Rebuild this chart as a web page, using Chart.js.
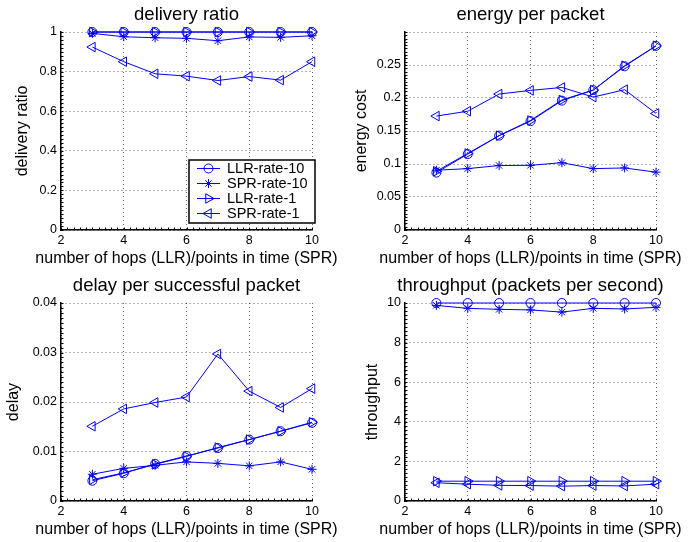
<!DOCTYPE html>
<html>
<head>
<meta charset="utf-8">
<script src="https://cdn.jsdelivr.net/npm/chart.js@4.4.0/dist/chart.umd.min.js"></script>
<style>
body { margin: 0; background: #fff; }
canvas { position: absolute; }
</style>
</head>
<body>
<canvas id="c1" width="349" height="271" style="left:0;top:0"></canvas>
<canvas id="c2" width="350" height="271" style="left:349px;top:0"></canvas>
<canvas id="c3" width="349" height="271" style="left:0;top:271px"></canvas>
<canvas id="c4" width="350" height="271" style="left:349px;top:271px"></canvas>
<script>
var hops = [3, 4, 5, 6, 7, 8, 9, 10];
var seriesNames = ["LLR-rate-10", "SPR-rate-10", "LLR-rate-1", "SPR-rate-1"];
var xTicks = [2, 4, 6, 8, 10];
var xTitle = 'number of hops (LLR)/points in time (SPR)';

// delivery ratio
var ratioLLR10 = [1, 1, 1, 1, 1, 1, 1, 1];
var ratioSPR10 = [0.993, 0.976, 0.971, 0.968, 0.956, 0.975, 0.973, 0.981];
var ratioLLR1 = [1, 1, 1, 1, 1, 1, 1, 1];
var ratioSPR1 = [0.924, 0.85, 0.789, 0.777, 0.755, 0.775, 0.757, 0.85];

// energy per packet
var energyLLR10 = [0.087, 0.115, 0.143, 0.165, 0.196, 0.212, 0.248, 0.279];
var energySPR10 = [0.0906, 0.093, 0.0977, 0.098, 0.102, 0.093, 0.094, 0.0876];
var energyLLR1 = [0.089, 0.116, 0.143, 0.166, 0.197, 0.212, 0.249, 0.279];
var energySPR1 = [0.1726, 0.18, 0.206, 0.2115, 0.216, 0.2014, 0.2126, 0.1766];

// delay per successful packet
var delayLLR10 = [0.0041, 0.0056, 0.0075, 0.0091, 0.0107, 0.0124, 0.0141, 0.0158];
var delaySPR10 = [0.0054, 0.0066, 0.0072, 0.0079, 0.0076, 0.0071, 0.0079, 0.0064];
var delayLLR1 = [0.0043, 0.0057, 0.0074, 0.009, 0.0108, 0.0124, 0.0141, 0.0159];
var delaySPR1 = [0.0151, 0.0186, 0.0199, 0.021, 0.0297, 0.0222, 0.0189, 0.0227];

// throughput
var thrLLR10 = [10, 10, 10, 10, 10, 10, 10, 10];
var thrSPR10 = [9.88, 9.73, 9.68, 9.65, 9.54, 9.73, 9.70, 9.78];
var thrLLR1 = [1, 1, 1, 1, 1, 1, 1, 1];
var thrSPR1 = [0.92, 0.85, 0.79, 0.78, 0.75, 0.78, 0.76, 0.85];

var FONT = '"Liberation Sans", Arial, Helvetica, sans-serif';
var BLUE = '#0000ff';

var markers = [
    { style: 'circle', rot: 0, r: 4.5 },
    { style: 'star', rot: 0, r: 4.5 },
    { style: 'triangle', rot: 90, r: 5.5 },
    { style: 'triangle', rot: -90, r: 5.5 }
];

// title and x label are centred on the plot and may be wider than it,
// chart.js would squeeze them, so they are drawn here
var plotTexts = {
    id: 'plotTexts',
    afterDraw: function (chart, args, opts) {
        var ctx = chart.ctx, a = chart.chartArea;
        var cx = (a.left + a.right) / 2;
        ctx.save();
        ctx.fillStyle = '#000';
        ctx.textAlign = 'center';
        ctx.textBaseline = 'middle';
        ctx.font = '18.5px ' + FONT;
        ctx.fillText(opts.title, cx, 14.5);
        ctx.font = '16px ' + FONT;
        ctx.fillText(xTitle, cx, chart.height - 12.6);
        ctx.restore();
    }
};

// small inward minor ticks on the left and bottom axes
var minorTicks = {
    id: 'minorTicks',
    afterDatasetsDraw: function (chart, args, opts) {
        var ctx = chart.ctx, a = chart.chartArea;
        var xs = chart.scales.x, ys = chart.scales.y;
        ctx.save();
        ctx.strokeStyle = '#000';
        ctx.lineWidth = 1;
        ctx.beginPath();
        var i, p;
        for (i = 0; i <= 40; i++) {
            p = Math.round(xs.getPixelForValue(2 + i * 0.2)) + 0.5;
            ctx.moveTo(p, a.bottom);
            ctx.lineTo(p, a.bottom - 2.5);
        }
        var n = Math.round(ys.max / opts.yMinor);
        for (i = 0; i <= n; i++) {
            p = Math.round(ys.getPixelForValue(i * opts.yMinor)) + 0.5;
            ctx.moveTo(a.left, p);
            ctx.lineTo(a.left + 2.5, p);
        }
        ctx.stroke();
        ctx.restore();
    }
};

// legend drawn inside the plot, like matlab's boxed legend
var boxLegend = {
    id: 'boxLegend',
    afterDatasetsDraw: function (chart, args, opts) {
        if (!opts.display) return;
        var ctx = chart.ctx, a = chart.chartArea;
        var w = 126, h = 63;
        var x = a.right + 3 - w, y = a.bottom - 7 - h;
        ctx.save();
        ctx.fillStyle = '#fff';
        ctx.fillRect(x, y, w, h);
        ctx.lineWidth = 1.5;
        ctx.strokeStyle = '#000';
        ctx.strokeRect(x, y, w, h);
        ctx.font = '14.5px ' + FONT;
        ctx.textBaseline = 'middle';
        chart.data.datasets.forEach(function (ds, i) {
            var cy = y + 8.5 + i * 15;
            ctx.strokeStyle = ds.borderColor;
            ctx.lineWidth = 1;
            ctx.beginPath();
            ctx.moveTo(x + 8, cy);
            ctx.lineTo(x + 31, cy);
            ctx.stroke();
            ctx.fillStyle = 'rgba(0,0,0,0)';
            Chart.helpers.drawPoint(ctx, {
                pointStyle: ds.pointStyle,
                rotation: ds.pointRotation,
                radius: ds.pointRadius,
                borderWidth: 1
            }, x + 19.5, cy);
            ctx.fillStyle = '#000';
            ctx.fillText(ds.label, x + 38, cy);
        });
        ctx.restore();
    }
};

function makeChart(id, o) {
    var datasets = o.series.map(function (vals, i) {
        return {
            label: seriesNames[i],
            data: vals.map(function (v, j) { return { x: hops[j], y: v }; }),
            borderColor: BLUE,
            borderWidth: 1,
            pointStyle: markers[i].style,
            pointRotation: markers[i].rot,
            pointRadius: markers[i].r,
            pointBorderColor: BLUE,
            pointBackgroundColor: 'rgba(0,0,0,0)',
            pointBorderWidth: 1,
            tension: 0,
            clip: false
        };
    });
    return new Chart(document.getElementById(id), {
        type: 'line',
        data: { datasets: datasets },
        options: {
            responsive: false,
            animation: false,
            layout: { padding: { left: 0, right: o.padRight, top: 32, bottom: 0 } },
            plugins: {
                legend: { display: false },
                tooltip: { enabled: false },
                title: { display: false },
                plotTexts: { title: o.title },
                minorTicks: { yMinor: o.yMinor },
                boxLegend: { display: !!o.legend }
            },
            scales: {
                x: {
                    type: 'linear',
                    min: 2,
                    max: 10,
                    afterBuildTicks: function (s) {
                        s.ticks = xTicks.map(function (v) { return { value: v }; });
                    },
                    ticks: { color: '#000', font: { family: FONT, size: 12.5 }, padding: 3.5, maxRotation: 0 },
                    grid: { color: 'rgba(0,0,0,0.6)', lineWidth: 1, drawTicks: false },
                    border: { display: true, color: '#000', width: 1.5, dash: [1, 3] },
                    afterFit: function (s) {
                        s.height = 41;
                        s.paddingLeft = 0;
                        s.paddingRight = 0;
                    }
                },
                y: {
                    min: 0,
                    max: o.yMax,
                    afterBuildTicks: function (s) {
                        s.ticks = o.yTicks.map(function (v) { return { value: v }; });
                    },
                    ticks: {
                        color: '#000',
                        font: { family: FONT, size: 12.5 },
                        padding: 4,
                        callback: function (v) {
                            return o.yLabels.indexOf(v) >= 0 ? String(v) : '';
                        }
                    },
                    grid: { color: 'rgba(0,0,0,0.6)', lineWidth: 1, drawTicks: false },
                    border: { display: true, color: '#000', width: 1.5, dash: [1, 3] },
                    title: {
                        display: true,
                        text: o.yTitle,
                        color: '#000',
                        font: { family: FONT, size: 16 },
                        padding: { top: o.yTitlePad, bottom: 0 }
                    },
                    afterFit: function (s) {
                        s.width = o.yWidth;
                        s.paddingTop = 0;
                        s.paddingBottom = 0;
                    }
                }
            }
        },
        plugins: [boxLegend, minorTicks, plotTexts]
    });
}

makeChart('c1', {
    title: 'delivery ratio',
    yTitle: 'delivery ratio',
    series: [ratioLLR10, ratioSPR10, ratioLLR1, ratioSPR1],
    yMax: 1, yMinor: 0.02,
    yTicks: [0, 0.2, 0.4, 0.6, 0.8, 1],
    yLabels: [0, 0.2, 0.4, 0.6, 0.8, 1],
    yWidth: 61, padRight: 37, yTitlePad: 13.4, legend: true
});
makeChart('c2', {
    title: 'energy per packet',
    yTitle: 'energy cost',
    series: [energyLLR10, energySPR10, energyLLR1, energySPR1],
    yMax: 0.3, yMinor: 0.005,
    yTicks: [0, 0.05, 0.1, 0.15, 0.2, 0.25, 0.3],
    yLabels: [0, 0.05, 0.1, 0.15, 0.2, 0.25],
    yWidth: 56, padRight: 43, yTitlePad: 3.1
});
makeChart('c3', {
    title: 'delay per successful packet',
    yTitle: 'delay',
    series: [delayLLR10, delaySPR10, delayLLR1, delaySPR1],
    yMax: 0.04, yMinor: 0.001,
    yTicks: [0, 0.01, 0.02, 0.03, 0.04],
    yLabels: [0, 0.01, 0.02, 0.03, 0.04],
    yWidth: 61, padRight: 37, yTitlePad: 3.7
});
makeChart('c4', {
    title: 'throughput (packets per second)',
    yTitle: 'throughput',
    series: [thrLLR10, thrSPR10, thrLLR1, thrSPR1],
    yMax: 10, yMinor: 0.2,
    yTicks: [0, 2, 4, 6, 8, 10],
    yLabels: [0, 2, 4, 6, 8, 10],
    yWidth: 56, padRight: 43, yTitlePad: 13.7
});
</script>
</body>
</html>
